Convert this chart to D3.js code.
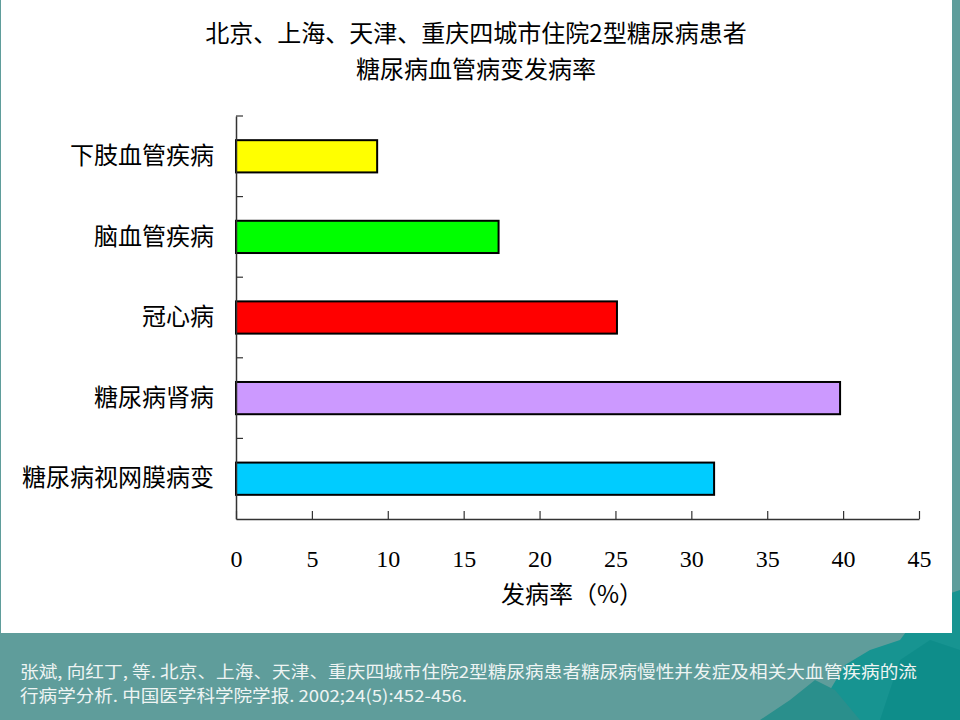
<!DOCTYPE html>
<html>
<head>
<meta charset="utf-8">
<script src="https://cdn.jsdelivr.net/npm/d3@7"></script>
<style>
  html, body { margin: 0; padding: 0; background: #5f9d9b; }
  svg { display: block; }
</style>
</head>
<body>
<div id="chart"></div>
<script>
// Data
const categories = ['下肢血管疾病', '脑血管疾病', '冠心病', '糖尿病肾病', '糖尿病视网膜病变'];
const rates = [9.3, 17.3, 25.1, 39.8, 31.5];
const barColors = ['#ffff00', '#00ff00', '#ff0000', '#cc99ff', '#00ccff'];
const xTicks = [0, 5, 10, 15, 20, 25, 30, 35, 40, 45];
const titleLines = ['北京、上海、天津、重庆四城市住院2型糖尿病患者', '糖尿病血管病变发病率'];
const xTitle = '发病率（%）';
const sourceLines = [
  '张斌, 向红丁, 等. 北京、上海、天津、重庆四城市住院2型糖尿病患者糖尿病慢性并发症及相关大血管疾病的流',
  '行病学分析. 中国医学科学院学报. 2002;24(5):452-456.',
];

const W = 960;
const H = 720;
const cjk = '"Noto Sans CJK SC", "Noto Sans", sans-serif';
const serif = '"Liberation Serif", "DejaVu Serif", serif';

const svg = d3.select('#chart')
  .append('svg')
  .attr('width', W)
  .attr('height', H);

// Slide background: teal footer with a darker mountain shape on the right
svg.append('rect')
  .attr('width', W)
  .attr('height', H)
  .attr('fill', '#5f9d9b');

svg.append('path')
  .attr('d', 'M790,720 L830,690 L845,665 L870,650 L900,640 L930,600 L960,590 L960,720 Z')
  .attr('fill', '#179491');
svg.append('path')
  .attr('d', 'M760,720 L790,700 L815,680 L835,690 L860,720 Z')
  .attr('fill', '#2a8f8c');
svg.append('path')
  .attr('d', 'M880,720 L900,660 L930,640 L960,650 L960,720 Z')
  .attr('fill', '#0c8a88')
  .attr('opacity', 0.7);

// White content panel
svg.append('rect')
  .attr('x', 1)
  .attr('y', 0)
  .attr('width', 951)
  .attr('height', 633)
  .attr('fill', '#ffffff');

// Title
svg.append('g')
  .selectAll('text')
  .data(titleLines)
  .enter()
  .append('text')
  .attr('x', 476)
  .attr('y', (_, i) => 42 + i * 36)
  .attr('text-anchor', 'middle')
  .style('font-family', cjk)
  .style('font-size', '24px')
  .attr('fill', '#000')
  .text(d => d);

// Scales
const x = d3.scaleLinear()
  .domain([0, 45])
  .range([236, 919]);

const y = d3.scaleBand()
  .domain(categories)
  .range([116, 519])
  .paddingInner(0.6)
  .paddingOuter(0.3);

// Bars
svg.append('g')
  .selectAll('rect')
  .data(rates)
  .enter()
  .append('rect')
  .attr('x', x(0))
  .attr('y', (_, i) => y(categories[i]))
  .attr('width', d => x(d) - x(0))
  .attr('height', y.bandwidth())
  .attr('fill', (_, i) => barColors[i])
  .attr('stroke', '#000')
  .attr('stroke-width', 2);

// Y axis: labels at band centres, small ticks at band boundaries
const yAxis = svg.append('g')
  .attr('transform', `translate(${x(0)},0)`)
  .call(d3.axisLeft(y).tickSize(0).tickPadding(22));
yAxis.select('.domain')
  .attr('stroke', '#333')
  .attr('stroke-width', 1.5);
yAxis.selectAll('text')
  .style('font-family', cjk)
  .style('font-size', '24px')
  .attr('fill', '#000');

svg.append('g')
  .selectAll('line')
  .data(d3.range(categories.length))
  .enter()
  .append('line')
  .attr('x1', x(0))
  .attr('x2', x(0) + 7)
  .attr('y1', i => y.range()[0] + i * y.step())
  .attr('y2', i => y.range()[0] + i * y.step())
  .attr('stroke', '#333')
  .attr('stroke-width', 1.2);

// X axis
const xAxis = svg.append('g')
  .attr('transform', 'translate(0,519)')
  .call(d3.axisBottom(x).tickValues(xTicks).tickSize(-8).tickSizeOuter(0).tickPadding(31));
xAxis.select('.domain')
  .attr('stroke', '#333')
  .attr('stroke-width', 1.5);
xAxis.selectAll('.tick line')
  .attr('stroke', '#333')
  .attr('stroke-width', 1.2);
xAxis.selectAll('text')
  .style('font-family', serif)
  .style('font-size', '24px')
  .attr('fill', '#000');

svg.append('text')
  .attr('x', 572)
  .attr('y', 603)
  .attr('text-anchor', 'middle')
  .style('font-family', cjk)
  .style('font-size', '24px')
  .attr('fill', '#000')
  .text(xTitle);

// Source note in the footer
svg.append('g')
  .selectAll('text')
  .data(sourceLines)
  .enter()
  .append('text')
  .attr('x', 20)
  .attr('y', (_, i) => 678 + i * 24)
  .attr('textLength', (_, i) => (i === 0 ? 897 : 447))
  .attr('lengthAdjust', 'spacingAndGlyphs')
  .style('font-family', cjk)
  .style('font-size', '16.5px')
  .attr('fill', '#eef4f3')
  .text(d => d);
</script>
</body>
</html>
